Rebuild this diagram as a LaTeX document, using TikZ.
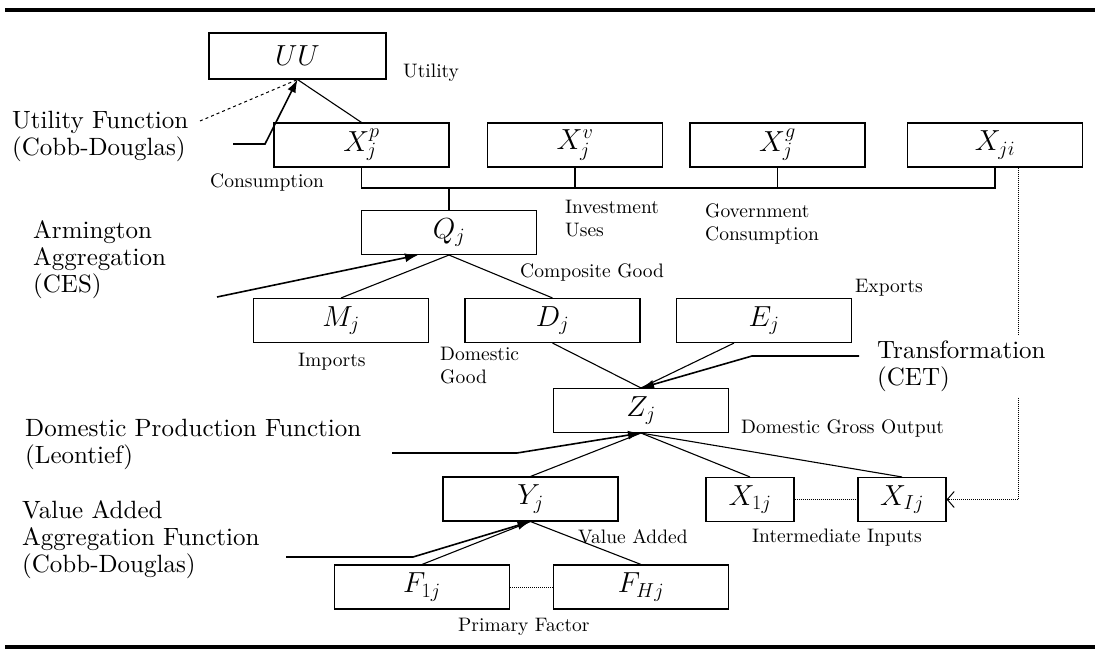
\RequirePackage{fix-cm}
\documentclass[tikz,border=0pt]{standalone}
\usepackage{fontspec}
\setmainfont{lmroman10-regular.otf}
\usetikzlibrary{arrows.meta,calc}

\begin{document}
\begin{tikzpicture}[x=1pt, y=-1pt,
    box/.style={draw, line width=1.1pt, minimum width=175pt, minimum height=44pt,
        inner sep=0pt, font=\fontsize{29}{30}\selectfont},
    smallbox/.style={box, minimum width=88pt},
    tag/.style={anchor=west, inner sep=0pt, align=left, font=\fontsize{19.5}{23}\selectfont},
    func/.style={anchor=west, inner sep=0pt, align=left, font=\fontsize{25}{27}\selectfont},
    link/.style={line width=1.1pt},
    fnarrow/.style={line width=1.6pt, -{Latex[length=13pt,width=9pt]}},
    feed/.style={line width=1pt, densely dotted}]
    \useasboundingbox (0,0) rectangle (1100,653);

    \draw[line width=4pt] (5,10) -- (1095,10);
    \draw[line width=4pt] (5,647) -- (1095,647);

    \node[box, minimum width=177pt, minimum height=46pt] (UU) at (297.5,56) {$UU$};
    \node[box] (Xp) at (361.5,145) {$X^{p}_{j}$};
    \node[box] (Xv) at (575,145) {$X^{v}_{j}$};
    \node[box] (Xg) at (777.5,145) {$X^{g}_{j}$};
    \node[box] (Xji) at (995,145) {$X_{ji}$};
    \node[box] (Q) at (449,232.5) {$Q_{j}$};
    \node[box] (M) at (341,320.5) {$M_{j}$};
    \node[box] (D) at (552.5,320.5) {$D_{j}$};
    \node[box] (E) at (764,320.5) {$E_{j}$};
    \node[box] (Z) at (641,410.5) {$Z_{j}$};
    \node[box] (Y) at (530.5,499) {$Y_{j}$};
    \node[smallbox] (X1) at (750,499.5) {$X_{1j}$};
    \node[smallbox] (XI) at (902,499.5) {$X_{Ij}$};
    \node[box] (F1) at (422,587) {$F_{1j}$};
    \node[box] (FH) at (641,587) {$F_{Hj}$};

    \node[tag] (utl) at (403,73) {Utility};
    \node[func] (ufn) at (12,136) {Utility Function\\(Cobb-Douglas)};
    \node[tag] (cons) at (210,183) {Consumption};
    \node[tag] (inv) at (565,219) {Investment\\Uses};
    \node[tag] (gov) at (705,224) {Government\\Consumption};
    \node[func] (arm) at (33,260) {Armington\\Aggregation\\(CES)};
    \node[tag] (comp) at (520,273) {Composite Good};
    \node[tag] (expo) at (855,288) {Exports};
    \node[tag] (impo) at (298,362) {Imports};
    \node[tag] (dom) at (440,366) {Domestic\\Good};
    \node[tag] (dgo) at (741,429) {Domestic Gross Output};
    \node[func] (dpf) at (25,444) {Domestic Production Function\\(Leontief)};
    \node[func] (vaf) at (22,540) {Value Added\\Aggregation Function\\(Cobb-Douglas)};
    \node[tag] (va) at (578,537) {Value Added};
    \node[tag] (ii) at (752,538) {Intermediate Inputs};
    \node[tag] (pf) at (458,627) {Primary Factor};

    % demand side
    \coordinate (bus) at (449,188);
    \draw[link] (Xp.north) -- (UU.south);
    \draw[link] (Xp.south) |- (bus) -| (Xji.south);
    \draw[link] (Xv.south) -- (Xv.south |- bus);
    \draw[link] (Xg.south) -- (Xg.south |- bus);
    \draw[link] (bus) -- (Q.north);
    \draw[link] (Q.south) -- (M.north);
    \draw[link] (Q.south) -- (D.north);

    % supply side
    \draw[link] (D.south) -- (Z.north);
    \draw[link] ($(E.south)+(-30,0)$) -- (Z.north);
    \draw[link] (Y.north) -- (Z.south);
    \draw[link] (X1.north) -- (Z.south);
    \draw[link] (XI.north) -- (Z.south);
    \draw[link] (F1.north) -- (Y.south);
    \draw[link] (FH.north) -- (Y.south);
    \draw[feed] (X1.east) -- (XI.west);
    \draw[feed] (F1.east) -- (FH.west);
    \draw[feed, -{Straight Barb[length=7pt,width=16pt]}] ($(Xji.south)+(23,0)$) |- (XI.east);

    % functions
    \coordinate (uf0) at (200,121);
    \coordinate (uf1) at (233,144);
    \coordinate (uf2) at (265,144);
    \draw[line width=1pt, dashed] (uf0) -- (UU.south);
    \draw[fnarrow] (uf1) -- (uf2) -- (UU.south);
    \coordinate (ces0) at (217,297);
    \draw[fnarrow] (ces0) -- ($(Q.south)+(-31,0)$);
    \coordinate (cet0) at (859,356);
    \coordinate (cet1) at (752,356);
    \draw[fnarrow] (cet0) -- (cet1) -- (Z.north);
    \coordinate (leo0) at (392,453);
    \coordinate (leo1) at (517,453);
    \draw[fnarrow] (leo0) -- (leo1) -- (Z.south);
    \coordinate (cd0) at (286,557);
    \coordinate (cd1) at (413,557);
    \draw[fnarrow] (cd0) -- (cd1) -- (Y.south);

    \node[func, fill=white, inner ysep=6pt] (cet) at (877,366) {Transformation\\(CET)};
\end{tikzpicture}
\end{document}
